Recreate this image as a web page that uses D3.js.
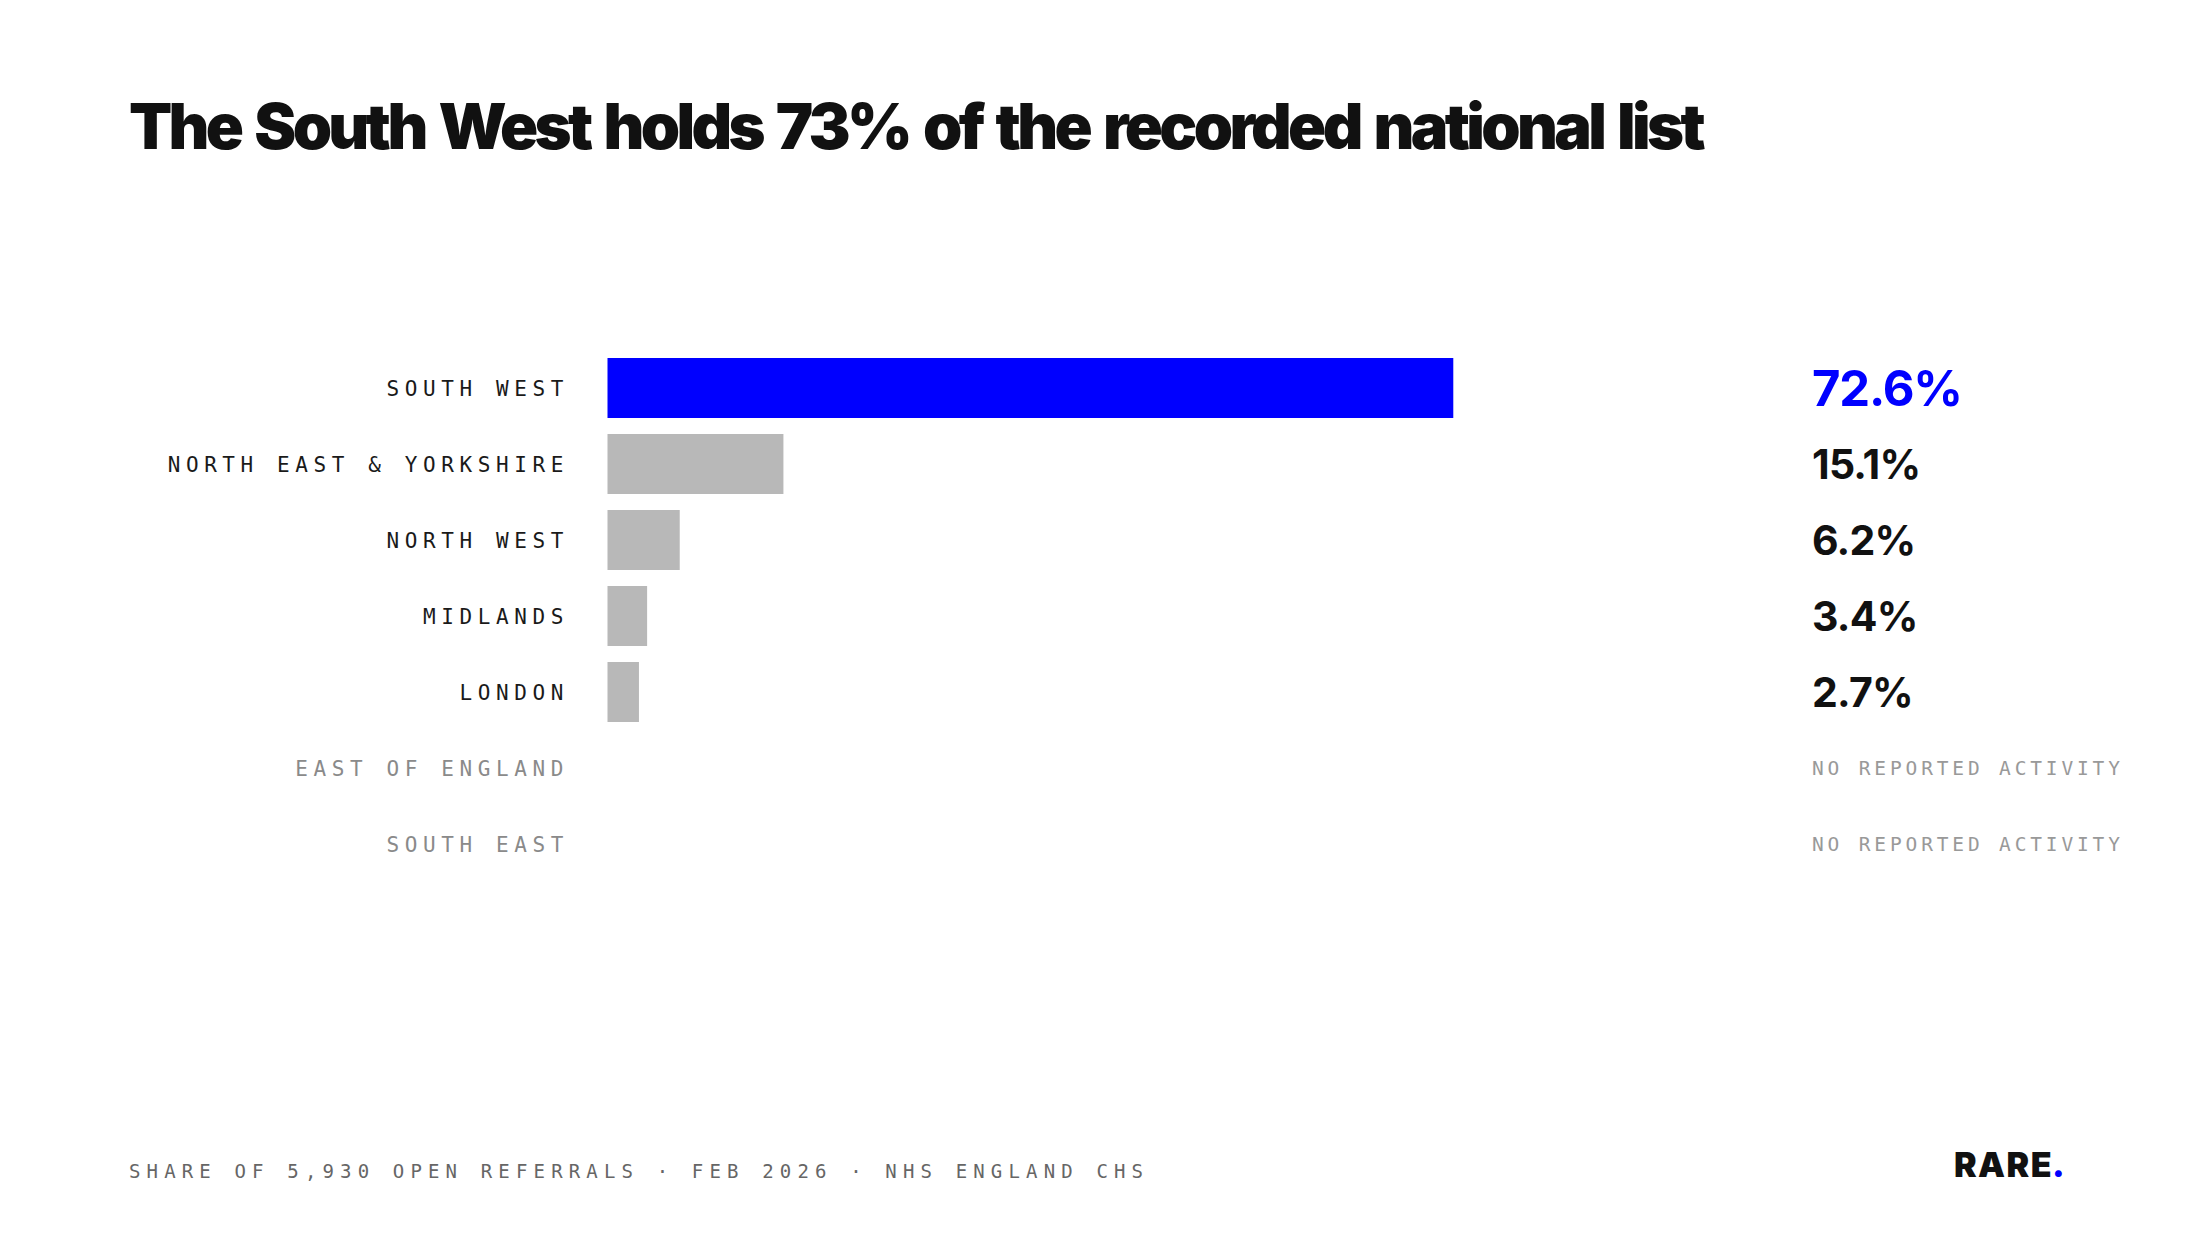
<!DOCTYPE html>
<html>
<head>
<meta charset="utf-8">
<script src="https://cdn.jsdelivr.net/npm/d3@7"></script>
<style>
  html, body { margin: 0; padding: 0; background: #ffffff; }
  svg { display: block; }
</style>
</head>
<body>
<script>
// ---- data ----
const title = "The South West holds 73% of the recorded national list";
const regions = ["SOUTH WEST", "NORTH EAST & YORKSHIRE", "NORTH WEST", "MIDLANDS", "LONDON", "EAST OF ENGLAND", "SOUTH EAST"];
const shares = [72.6, 15.1, 6.2, 3.4, 2.7, null, null];
const highlight = ["SOUTH WEST"];
const noDataLabel = "NO REPORTED ACTIVITY";
const footerText = "SHARE OF 5,930 OPEN REFERRALS · FEB 2026 · NHS ENGLAND CHS";
const logoText = "RARE";

const W = 2200, H = 1240;
const svg = d3.select("body").append("svg").attr("width", W).attr("height", H);

const rows = regions.map((r, i) => ({ region: r, share: shares[i] }));

const y = d3.scaleBand().domain(regions).range([350, 882])
  .paddingInner(16 / 76).paddingOuter(8 / 76);
const x = d3.scaleLinear().domain([0, 100]).range([607.5, 1772.5]);

const mono = "'DejaVu Sans Mono', 'Liberation Mono', monospace";
const sans = "Inter, 'Noto Sans', sans-serif";

// title
const t = svg.append("text")
  .attr("x", 129).attr("y", 149)
  .attr("font-family", sans).attr("font-weight", 900)
  .attr("font-size", 63).attr("letter-spacing", "-2.6px")
  .attr("word-spacing", "5px")
  .attr("fill", "#111111")
  .text(title);
// fit title width to the reference span
{
  const target = 1573;
  const len = t.node().getComputedTextLength();
  const n = title.length;
  const ls = -2.6 + (target - len) / n;
  t.attr("letter-spacing", ls + "px");
}

// bars
svg.append("g").selectAll("rect")
  .data(rows.filter(d => d.share != null))
  .join("rect")
  .attr("x", x(0))
  .attr("y", d => y(d.region))
  .attr("width", d => x(d.share) - x(0))
  .attr("height", y.bandwidth())
  .attr("fill", d => highlight.includes(d.region) ? "#0000ff" : "#b8b8b8");

// category labels
svg.append("g").selectAll("text")
  .data(rows)
  .join("text")
  .attr("x", 569)
  .attr("y", d => y(d.region) + y.bandwidth() / 2)
  .attr("dy", "0.36em")
  .attr("text-anchor", "end")
  .attr("font-family", mono).attr("font-size", 21)
  .attr("letter-spacing", "5.6px")
  .attr("fill", d => d.share == null ? "#8a8a8a" : "#1a1a1a")
  .text(d => d.region);

// value labels
const vx = 1812;
svg.append("g").selectAll("text")
  .data(rows)
  .join("text")
  .attr("x", vx)
  .attr("y", d => y(d.region) + y.bandwidth() / 2)
  .attr("dy", "0.36em")
  .attr("font-family", d => d.share == null ? mono : sans)
  .attr("font-weight", d => d.share == null ? 400 : 700)
  .attr("font-size", d => d.share == null ? 19.5 : (highlight.includes(d.region) ? 49 : 41))
  .attr("letter-spacing", d => d.share == null ? "3.85px" : (highlight.includes(d.region) ? "-1.2px" : "-0.8px"))
  .attr("fill", d => d.share == null ? "#999999" : (highlight.includes(d.region) ? "#0000ff" : "#111111"))
  .text(d => d.share == null ? noDataLabel : d3.format(".1f")(d.share) + "%");

// footer
svg.append("text")
  .attr("x", 129).attr("y", 1171)
  .attr("dy", "0.36em")
  .attr("font-family", mono).attr("font-size", 19)
  .attr("letter-spacing", "6.15px")
  .attr("fill", "#666666")
  .text(footerText);

// logo
const logo = svg.append("text")
  .attr("x", 1954).attr("y", 1177)
  .attr("font-family", sans).attr("font-weight", 900)
  .attr("font-size", 34).attr("letter-spacing", "1.4px")
  .attr("fill", "#111111");
logo.append("tspan").text(logoText);
logo.append("tspan").attr("fill", "#0000ff").attr("dx", -1).text(".");
</script>
</body>
</html>
